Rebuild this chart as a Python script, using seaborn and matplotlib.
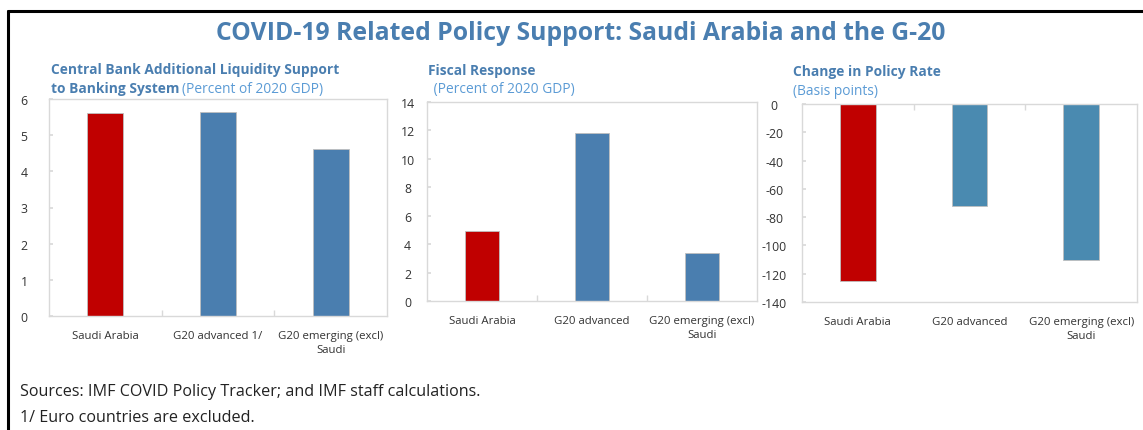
import matplotlib
matplotlib.use("Agg")
import matplotlib.pyplot as plt
from matplotlib.lines import Line2D
import seaborn as sns

sns.set_theme(style="white")
plt.rcParams["font.family"] = ["Open Sans", "DejaVu Sans"]

# ---- data ----
categories_liq = ["Saudi Arabia", "G20 advanced 1/", "G20 emerging (excl)\nSaudi"]
liquidity = [5.6, 5.65, 4.62]

categories_fis = ["Saudi Arabia", "G20 advanced", "G20 emerging (excl)\nSaudi"]
fiscal = [4.9, 11.85, 3.35]

categories_rate = ["Saudi Arabia", "G20 advanced", "G20 emerging (excl)\nSaudi"]
policy_rate = [-125, -72, -110]

liq_ticks = [0, 1, 2, 3, 4, 5, 6]
fis_ticks = [0, 2, 4, 6, 8, 10, 12, 14]
rate_ticks = [0, -20, -40, -60, -80, -100, -120, -140]

RED = "#C00000"
BLUE = "#4A7EAF"
BLUE2 = "#4A8AB0"
TITLE_BLUE = "#4A7EB0"
SUB_BLUE = "#5B9BD5"
TXT = "#333333"
GRID = "#D9D9D9"

W, H = 1143, 431
fig = plt.figure(figsize=(W / 100, H / 100), dpi=100)


def px_axes(x0, y0, x1, y1):
    return fig.add_axes([x0 / W, 1 - y1 / H, (x1 - x0) / W, (y1 - y0) / H])


def style(ax, cats, ticks, lim, top_ticks=False):
    for s in ax.spines.values():
        s.set_color(GRID)
        s.set_linewidth(1.0)
    ax.set_ylim(*lim)
    ax.set_yticks(ticks)
    ax.set_yticklabels([str(t) for t in ticks])
    ax.set_xlim(-0.5, len(cats) - 0.5)
    ax.set_xticks(range(len(cats)))
    ax.set_xticklabels(cats, fontsize=8.2, color=TXT, linespacing=1.35)
    ax.set_xticks([i + 0.5 for i in range(len(cats) - 1)], minor=True)
    ax.tick_params(axis="x", which="major", length=0, pad=10)
    ax.tick_params(axis="x", which="minor", length=4, color=GRID, direction="in",
                   bottom=not top_ticks, top=top_ticks)
    ax.tick_params(axis="y", length=3, color=GRID, direction="in", labelsize=8.8,
                   labelcolor=TXT, pad=14, left=True)
    for lab in ax.get_yticklabels():
        lab.set_horizontalalignment("center")
    ax.set_xlabel("")
    ax.set_ylabel("")


bar_kw = dict(legend=False, saturation=1, edgecolor="#BFBFBF", linewidth=0.6)

# Panel 1: central bank liquidity
ax1 = px_axes(49, 100, 387, 317)
sns.barplot(x=categories_liq, y=liquidity, hue=categories_liq,
            palette=[RED, BLUE, BLUE], width=0.32, ax=ax1, **bar_kw)
style(ax1, categories_liq, liq_ticks, (0, 6))
ax1.tick_params(axis="y", pad=18)

# Panel 2: fiscal response
ax2 = px_axes(427, 103, 757, 302)
sns.barplot(x=categories_fis, y=fiscal, hue=categories_fis,
            palette=[RED, BLUE, BLUE], width=0.31, ax=ax2, **bar_kw)
style(ax2, categories_fis, fis_ticks, (0, 14))

# Panel 3: policy rate change
ax3 = px_axes(802, 105, 1137, 303)
sns.barplot(x=categories_rate, y=policy_rate, hue=categories_rate,
            palette=[RED, BLUE2, BLUE2], width=0.32, ax=ax3, **bar_kw)
style(ax3, categories_rate, rate_ticks, (-140, 0), top_ticks=True)
ax3.tick_params(axis="y", pad=20)

# ---- text ----
def ftext(x, y, s, **kw):
    fig.text(x / W, 1 - y / H, s, **kw)


ftext(581, 33, "COVID-19 Related Policy Support: Saudi Arabia and the G-20",
      ha="center", va="center", fontsize=17.8, fontweight="bold", color=TITLE_BLUE)

ftext(51, 70, "Central Bank Additional Liquidity Support", ha="left", va="center",
      fontsize=9.9, fontweight="bold", color=TITLE_BLUE)
ftext(51, 89, "to Banking System", ha="left", va="center",
      fontsize=9.9, fontweight="bold", color=TITLE_BLUE)
ftext(182, 89, "(Percent of 2020 GDP)", ha="left", va="center",
      fontsize=9.9, color=SUB_BLUE)

ftext(428, 71, "Fiscal Response", ha="left", va="center",
      fontsize=9.9, fontweight="bold", color=TITLE_BLUE)
ftext(430, 90, " (Percent of 2020 GDP)", ha="left", va="center",
      fontsize=9.9, color=SUB_BLUE)

ftext(793, 72, "Change in Policy Rate", ha="left", va="center",
      fontsize=9.9, fontweight="bold", color=TITLE_BLUE)
ftext(793, 92, "(Basis points)", ha="left", va="center",
      fontsize=9.9, color=SUB_BLUE)

ftext(20, 392, "Sources: IMF COVID Policy Tracker; and IMF staff calculations.",
      ha="left", va="center", fontsize=11.6, color="#222222")
ftext(20, 418, "1/ Euro countries are excluded.",
      ha="left", va="center", fontsize=11.6, color="#222222")

# Outer frame: top and left edges
fig.add_artist(Line2D([8 / W, 8 / W], [0, 1 - 12 / H], color="black", lw=2.2,
                      transform=fig.transFigure))
fig.add_artist(Line2D([8 / W, 1], [1 - 12 / H, 1 - 12 / H], color="black", lw=2.2,
                      transform=fig.transFigure))

fig.savefig("out.png", dpi=100)
